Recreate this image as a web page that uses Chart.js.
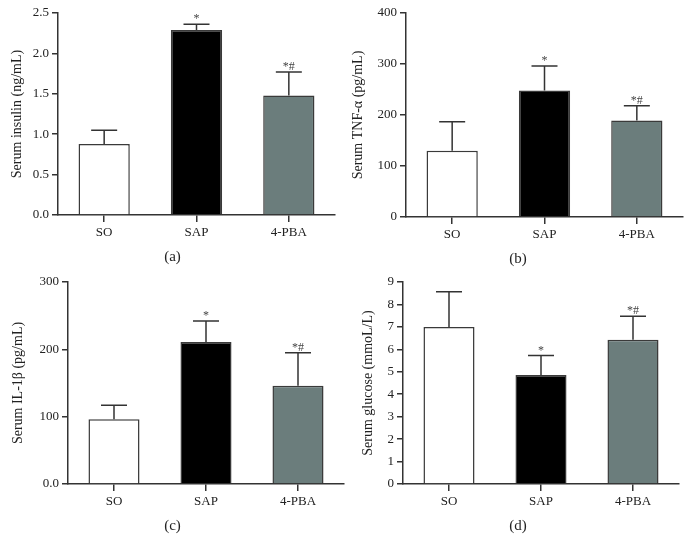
<!DOCTYPE html>
<html lang="en">
<head>
<meta charset="UTF-8">
<title>Serum markers</title>
<script src="https://cdn.jsdelivr.net/npm/chart.js@4"></script>
<style>
  body { margin: 0; background: #fff; }
  #wrap { position: relative; width: 691px; height: 554px; overflow: hidden; }
  #wrap canvas { position: absolute; }
</style>
</head>
<body>
<div id="wrap">
  <canvas id="chartA"></canvas>
  <canvas id="chartB"></canvas>
  <canvas id="chartC"></canvas>
  <canvas id="chartD"></canvas>
</div>
<script>
// data
const groups = ['SO', 'SAP', '4-PBA'];
const marks = ['', '*', '*#'];

const insulinMean = [0.88, 2.29, 1.48];
const insulinErr = [0.17, 0.07, 0.29];
const insulinTicks = ['0.0', '0.5', '1.0', '1.5', '2.0', '2.5'];

const tnfMean = [130, 248, 189];
const tnfErr = [57, 48, 29];
const tnfTicks = ['0', '100', '200', '300', '400'];

const il1Mean = [96, 211, 146];
const il1Err = [21, 31, 49];
const il1Ticks = ['0.0', '100', '200', '300'];

const glucoseMean = [7.0, 4.86, 6.43];
const glucoseErr = [1.57, 0.86, 1.04];
const glucoseTicks = ['0', '1', '2', '3', '4', '5', '6', '7', '8', '9'];

const barFill = ['#ffffff', '#000000', '#6b7d7c'];
const serif = '"Liberation Serif", "Times New Roman", serif';
const ink = '#222';
const axisColor = '#333';

// error bars, significance marks and the panel caption
const extrasPlugin = {
    id: 'extras',
    afterDatasetsDraw(chart, args, opts) {
        const { ctx } = chart;
        const y = chart.scales.y;
        const meta = chart.getDatasetMeta(0);
        ctx.save();
        meta.data.forEach((bar, i) => {
            const top = y.getPixelForValue(opts.mean[i] + opts.err[i]);
            ctx.strokeStyle = axisColor;
            ctx.lineWidth = 1.5;
            ctx.beginPath();
            ctx.moveTo(bar.x, bar.y);
            ctx.lineTo(bar.x, top);
            ctx.moveTo(bar.x - 13, top);
            ctx.lineTo(bar.x + 13, top);
            ctx.stroke();
            if (opts.marks[i]) {
                ctx.fillStyle = '#444';
                ctx.font = '12px ' + serif;
                ctx.textAlign = 'center';
                ctx.textBaseline = 'alphabetic';
                ctx.fillText(opts.marks[i], bar.x, top - 2);
            }
        });
        ctx.fillStyle = ink;
        ctx.font = '15px ' + serif;
        ctx.textAlign = 'center';
        ctx.textBaseline = 'middle';
        ctx.fillText(opts.caption, chart.width / 2, chart.chartArea.bottom + 42);
        ctx.restore();
    }
};

function makePanel(id, p, mean, err, ticks, yTitle, caption) {
    const canvas = document.getElementById(id);
    const canvasTop = p.top - 20;
    const h = p.bottom - p.top + 82;
    canvas.width = p.width;
    canvas.height = h;
    canvas.style.left = p.left + 'px';
    canvas.style.top = canvasTop + 'px';
    canvas.style.width = p.width + 'px';
    canvas.style.height = h + 'px';

    const tickMax = parseFloat(ticks[ticks.length - 1]);
    const step = parseFloat(ticks[1]) - parseFloat(ticks[0]);

    return new Chart(canvas.getContext('2d'), {
        type: 'bar',
        data: {
            labels: groups,
            datasets: [{
                data: mean,
                backgroundColor: barFill,
                borderColor: '#3a3a3a',
                borderWidth: 1.5,
                borderSkipped: 'bottom',
                barPercentage: 0.555,
                categoryPercentage: 1
            }]
        },
        options: {
            responsive: false,
            animation: false,
            devicePixelRatio: 1,
            layout: { padding: { top: 20, left: 0, bottom: 0, right: p.left + p.width - p.right } },
            plugins: {
                legend: { display: false },
                tooltip: { enabled: false },
                extras: { mean: mean, err: err, marks: marks, caption: caption }
            },
            scales: {
                x: {
                    afterFit: s => { s.height = 62; },
                    grid: { display: true, drawOnChartArea: false, offset: false, tickLength: 7, color: axisColor, lineWidth: 1.5 },
                    border: { color: axisColor, width: 1.5 },
                    ticks: { color: ink, padding: 3, font: { family: serif, size: 13 } }
                },
                y: {
                    min: 0,
                    max: tickMax,
                    afterFit: s => { s.width = p.axisX - p.left; },
                    grid: { display: true, drawOnChartArea: false, tickLength: 6, color: axisColor, lineWidth: 1.5 },
                    border: { color: axisColor, width: 1.5 },
                    ticks: {
                        stepSize: step,
                        color: ink,
                        padding: 3,
                        font: { family: serif, size: 13 },
                        callback: (v, i) => ticks[i]
                    },
                    title: {
                        display: true,
                        text: yTitle,
                        color: ink,
                        font: { family: serif, size: 14, lineHeight: 1.2 },
                        padding: { top: p.titleX - p.left - 8.4, bottom: 0 }
                    }
                }
            }
        },
        plugins: [extrasPlugin]
    });
}

makePanel('chartA', { left: 0, width: 345, axisX: 58, top: 13, bottom: 215, right: 335, titleX: 17.5 },
    insulinMean, insulinErr, insulinTicks, 'Serum insulin (ng/mL)', '(a)');
makePanel('chartB', { left: 345, width: 346, axisX: 406, top: 13, bottom: 217, right: 683, titleX: 358.5 },
    tnfMean, tnfErr, tnfTicks, 'Serum TNF-α (pg/mL)', '(b)');
makePanel('chartC', { left: 0, width: 345, axisX: 68, top: 282, bottom: 484, right: 344, titleX: 18 },
    il1Mean, il1Err, il1Ticks, 'Serum IL-1β (pg/mL)', '(c)');
makePanel('chartD', { left: 345, width: 346, axisX: 403, top: 282, bottom: 484, right: 679, titleX: 368 },
    glucoseMean, glucoseErr, glucoseTicks, 'Serum glucose (mmoL/L)', '(d)');
</script>
</body>
</html>
